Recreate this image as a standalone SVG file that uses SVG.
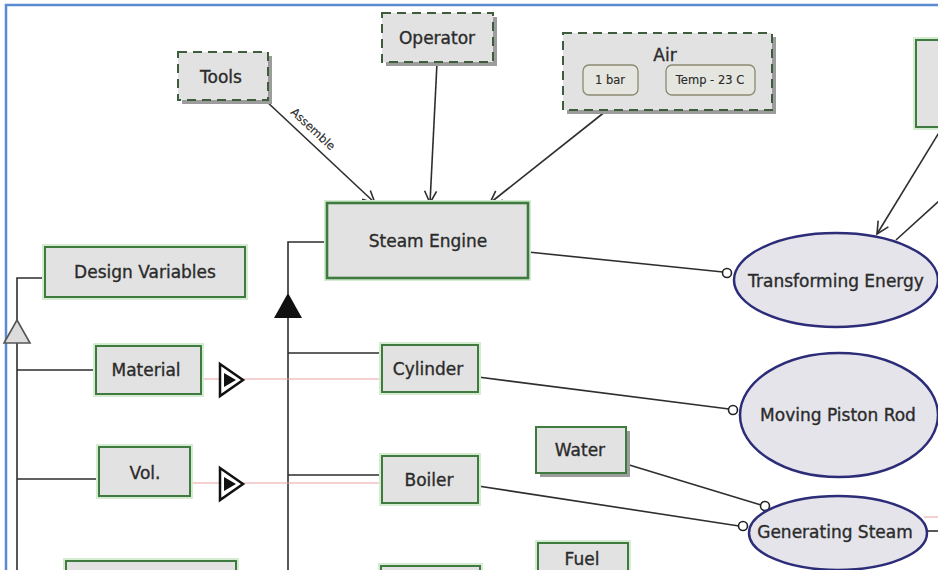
<svg xmlns="http://www.w3.org/2000/svg" width="938" height="570" viewBox="0 0 938 570">
<style>
text{font-family:"DejaVu Sans","Liberation Sans",sans-serif;font-size:17px;fill:#2b2b2b;stroke:#2b2b2b;stroke-width:0.35;text-anchor:middle;dominant-baseline:central}
.box{fill:#e2e2e2;stroke:#3f7a3f;stroke-width:2}
.glow{fill:none;stroke:#d6ecd2;stroke-width:6}
.dash{fill:#e2e2e2;stroke:#3d5d3d;stroke-width:2;stroke-dasharray:9 6}
.shadow{fill:#9c9c9c}
.ell{fill:#e4e4ea;stroke:#2c2c78;stroke-width:2.5}
.ln{fill:none;stroke:#2e2e2e;stroke-width:1.6}
.red{fill:none;stroke:#e8a0a0;stroke-width:1}
.sub{fill:#e6e6e0;stroke:#8a8a70;stroke-width:1.3}
.small{font-size:11.5px;stroke-width:0.15}
.ball{fill:#fff;stroke:#222;stroke-width:1.6}
</style>
<defs>
<marker id="open" markerUnits="userSpaceOnUse" markerWidth="16" markerHeight="16" refX="13" refY="7" orient="auto">
<path d="M1,1 L13,7 L1,13" fill="none" stroke="#2e2e2e" stroke-width="1.6"/>
</marker>
</defs>
<rect width="938" height="570" fill="#fff"/>
<path d="M6,570 V5 H938" fill="none" stroke="#5b8bd0" stroke-width="2.5"/>

<g id="connectors">
<line class="ln" x1="265" y1="100" x2="375" y2="203" marker-end="url(#open)"/>
<text class="small" transform="translate(313 129) rotate(43)" style="font-size:11.5px">Assemble</text>
<line class="ln" x1="437" y1="63" x2="430" y2="203" marker-end="url(#open)"/>
<line class="ln" x1="606" y1="111" x2="490" y2="203" marker-end="url(#open)"/>
<line class="ln" x1="940" y1="131" x2="877" y2="234" marker-end="url(#open)"/>
<line class="ln" x1="940" y1="200" x2="896" y2="240"/>
<line class="ln" x1="528" y1="252" x2="723" y2="272"/>
<line class="ln" x1="478" y1="377" x2="729" y2="409"/>
<line class="ln" x1="478" y1="486" x2="739" y2="526"/>
<line class="ln" x1="626" y1="464" x2="761" y2="505"/>
<line class="ln" x1="927" y1="531" x2="938" y2="531"/>
<line class="red" x1="924" y1="517" x2="938" y2="517"/>
<circle class="ball" cx="727" cy="273" r="4.5"/>
<circle class="ball" cx="733" cy="410" r="4.5"/>
<circle class="ball" cx="743" cy="526" r="4.5"/>
<circle class="ball" cx="765" cy="506" r="4.5"/>
<path class="ln" d="M45,278 H17 V320 M17,343 V570 M17,370 H96 M17,479 H99"/>
<polygon points="17,320 30,343 4,343" fill="#dcdcdc" stroke="#555" stroke-width="1.6"/>
<path class="ln" d="M327,242 H288 V294 M288,317 V570 M288,353 H382 M288,475 H382"/>
<polygon points="288,293 302,318 274,318" fill="#111"/>
<line class="red" x1="201" y1="379" x2="382" y2="379"/>
<line class="red" x1="190" y1="483" x2="382" y2="483"/>
<polygon points="220,364 243,380 220,396" fill="#fff" stroke="#111" stroke-width="2.5"/>
<polygon points="224,373 236,380 224,387" fill="#111"/>
<polygon points="220,468 243,484 220,500" fill="#fff" stroke="#111" stroke-width="2.5"/>
<polygon points="224,477 236,484 224,491" fill="#111"/>
</g>

<g id="tools">
<rect class="shadow" x="182" y="56" width="90" height="48"/>
<rect class="dash" x="178" y="52" width="90" height="48"/>
<text x="221" y="77">Tools</text>
</g>
<g id="operator">
<rect class="shadow" x="386" y="17" width="111" height="49"/>
<rect class="dash" x="382" y="13" width="111" height="49"/>
<text x="437" y="38">Operator</text>
</g>
<g id="air">
<rect class="shadow" x="567" y="37" width="209" height="77"/>
<rect class="dash" x="563" y="33" width="209" height="77"/>
<text x="665" y="55">Air</text>
<rect class="sub" x="583" y="65" width="55" height="30" rx="6"/>
<text class="small" x="610" y="80">1 bar</text>
<rect class="sub" x="666" y="65" width="89" height="30" rx="6"/>
<text class="small" x="710" y="80">Temp - 23 C</text>
</g>
<g id="topright">
<rect class="glow" x="916" y="40" width="30" height="87"/>
<rect class="box" x="916" y="40" width="30" height="87"/>
</g>
<g id="steam-engine">
<rect class="glow" x="327" y="203" width="201" height="75"/>
<rect class="box" x="327" y="203" width="201" height="75" style="stroke-width:2.6"/>
<text x="428" y="241">Steam Engine</text>
</g>
<g id="design-variables">
<rect class="glow" x="45" y="247" width="200" height="50"/>
<rect class="box" x="45" y="247" width="200" height="50"/>
<text x="145" y="272">Design Variables</text>
</g>
<g id="material">
<rect class="glow" x="96" y="346" width="105" height="48"/>
<rect class="box" x="96" y="346" width="105" height="48"/>
<text x="146" y="370">Material</text>
</g>
<g id="vol">
<rect class="glow" x="99" y="447" width="91" height="49"/>
<rect class="box" x="99" y="447" width="91" height="49"/>
<text x="145" y="473">Vol.</text>
</g>
<g id="cylinder">
<rect class="glow" x="382" y="345" width="96" height="47"/>
<rect class="box" x="382" y="345" width="96" height="47"/>
<text x="428" y="369">Cylinder</text>
</g>
<g id="boiler">
<rect class="glow" x="382" y="456" width="96" height="47"/>
<rect class="box" x="382" y="456" width="96" height="47"/>
<text x="429" y="480">Boiler</text>
</g>
<g id="water">
<rect class="shadow" x="540" y="431" width="90" height="46"/>
<rect class="box" x="536" y="427" width="90" height="46"/>
<text x="580" y="450">Water</text>
</g>
<g id="fuel">
<rect class="glow" x="538" y="543" width="90" height="40"/>
<rect class="box" x="538" y="543" width="90" height="40"/>
<text x="582" y="559">Fuel</text>
</g>
<g id="bottom-left">
<rect class="glow" x="66" y="561" width="170" height="30"/>
<rect class="box" x="66" y="561" width="170" height="30"/>
</g>
<g id="bottom-mid">
<rect class="glow" x="381" y="566" width="99" height="30"/>
<rect class="box" x="381" y="566" width="99" height="30"/>
</g>
<g id="transforming-energy">
<ellipse class="ell" cx="836" cy="280" rx="102" ry="47"/>
<text x="836" y="281">Transforming Energy</text>
</g>
<g id="moving-piston-rod">
<ellipse class="ell" cx="839" cy="415" rx="99" ry="62"/>
<text x="838" y="415">Moving Piston Rod</text>
</g>
<g id="generating-steam">
<ellipse class="ell" cx="838" cy="533" rx="89" ry="37"/>
<text x="835" y="532">Generating Steam</text>
</g>
</svg>
